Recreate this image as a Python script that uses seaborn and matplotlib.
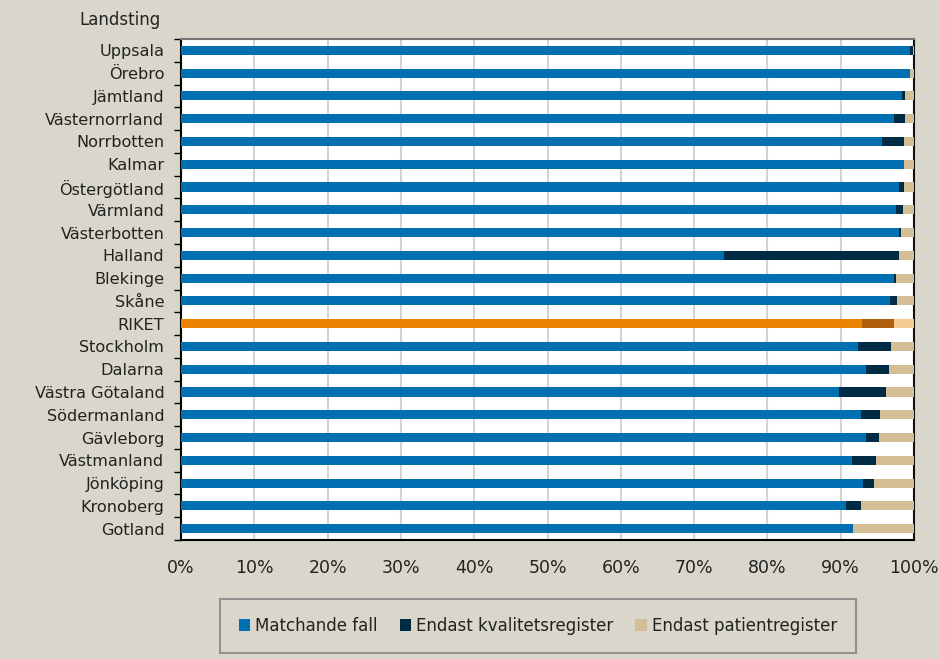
import numpy as np
import pandas as pd
import seaborn as sns
import matplotlib.pyplot as plt
from matplotlib.patches import Patch
from matplotlib.ticker import FixedLocator, PercentFormatter

# values (percent of cases)
landsting = ['Uppsala', 'Örebro', 'Jämtland', 'Västernorrland', 'Norrbotten',
             'Kalmar', 'Östergötland', 'Värmland', 'Västerbotten', 'Halland',
             'Blekinge', 'Skåne', 'RIKET', 'Stockholm', 'Dalarna',
             'Västra Götaland', 'Södermanland', 'Gävleborg', 'Västmanland',
             'Jönköping', 'Kronoberg', 'Gotland']
matchande = [99.4, 99.5, 98.3, 97.3, 95.6, 98.6, 98.0, 97.6, 98.0, 74.1, 97.3,
             96.7, 92.9, 92.3, 93.4, 89.7, 92.8, 93.4, 91.5, 93.1, 90.7, 91.7]
endast_kval = [0.4, 0.0, 0.5, 1.5, 3.1, 0.0, 0.6, 0.9, 0.2, 23.9, 0.3,
               1.0, 4.4, 4.6, 3.2, 6.5, 2.5, 1.8, 3.3, 1.4, 2.1, 0.0]
endast_pat = [0.2, 0.5, 1.2, 1.2, 1.3, 1.4, 1.4, 1.5, 1.8, 2.0, 2.4,
              2.3, 2.7, 3.1, 3.4, 3.8, 4.7, 4.8, 5.2, 5.5, 7.2, 8.3]
series_names = ['Matchande fall', 'Endast kvalitetsregister', 'Endast patientregister']

BG = '#D9D7CB'
colors = ['#0070B3', '#002B45', '#D4BE96']
riket_colors = ['#E98300', '#B0600C', '#F5CB95']

df = pd.DataFrame({'landsting': landsting,
                   'm': matchande, 'k': endast_kval, 'p': endast_pat})
df['mk'] = df['m'] + df['k']
df['mkp'] = df['mk'] + df['p']

sns.set_theme(style='white')
plt.rcParams['font.family'] = ['DejaVu Sans']

fig = plt.figure(figsize=(9.39, 6.59), dpi=100, facecolor=BG)
ax = fig.add_axes([181 / 939, 1 - 540 / 659, 733 / 939, 501 / 659])
ax.set_facecolor('white')

# stacked by drawing cumulative totals back to front
for col, idx in [('mkp', 2), ('mk', 1), ('m', 0)]:
    pal = {name: (riket_colors[idx] if name == 'RIKET' else colors[idx])
           for name in landsting}
    sns.barplot(data=df, x=col, y='landsting', hue='landsting', palette=pal,
                order=landsting, legend=False, width=0.4, saturation=1,
                linewidth=0, ax=ax, zorder=3)

ax.set_xlim(0, 100)
ax.set_ylim(len(landsting) - 0.5, -0.5)
ax.xaxis.set_major_locator(FixedLocator(np.arange(0, 101, 10)))
ax.xaxis.set_major_formatter(PercentFormatter(decimals=0))
ax.grid(axis='x', color='#D6D4CA', linewidth=1.5, zorder=0)
ax.set_axisbelow(True)
ax.set_xlabel('')
ax.set_ylabel('')
ax.tick_params(axis='x', length=0, pad=14, labelsize=12.5, labelcolor='#222222')
ax.tick_params(axis='y', which='major', length=0, pad=12, labelsize=11.6,
               labelcolor='#222222')
ax.yaxis.set_minor_locator(FixedLocator(np.arange(-0.5, len(landsting), 1)))
ax.tick_params(axis='y', which='minor', length=5, width=1, color='black',
               left=True, direction='out')

for side in ['left', 'bottom']:
    ax.spines[side].set_color('black')
    ax.spines[side].set_linewidth(1.5)
ax.spines['right'].set_color('#111111')
ax.spines['right'].set_linewidth(1.5)
ax.spines['top'].set_color('#777777')
ax.spines['top'].set_linewidth(1.5)

fig.text(161 / 939, 1 - 20 / 659, 'Landsting', ha='right', va='center',
         fontsize=12, color='#222222')

handles = [Patch(facecolor=c, edgecolor='none') for c in colors]
leg = fig.legend(handles, series_names, loc='center',
                 bbox_to_anchor=(538 / 939, 1 - 626 / 659), ncol=3,
                 frameon=True, fancybox=False, facecolor=BG,
                 edgecolor='#808080', fontsize=12, handlelength=0.7,
                 handleheight=0.7, handletextpad=0.3, columnspacing=1.3,
                 borderpad=1.1)
leg.get_frame().set_linewidth(1.5)
for t in leg.get_texts():
    t.set_color('#222222')

fig.savefig('out.png', dpi=100, facecolor=BG)
